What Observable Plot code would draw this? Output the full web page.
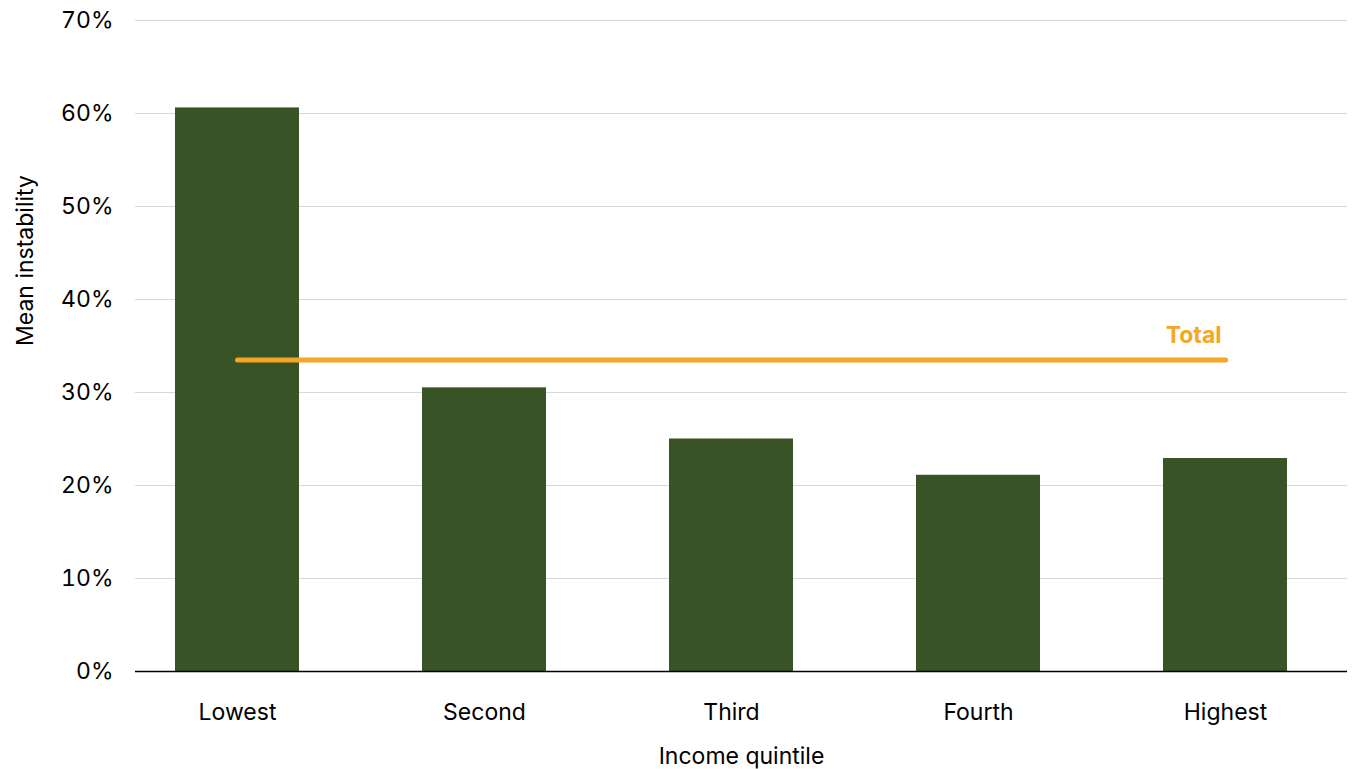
<!DOCTYPE html>
<html><head>
<script src="https://cdn.jsdelivr.net/npm/d3@7"></script>
<script src="https://cdn.jsdelivr.net/npm/@observablehq/plot@0.6"></script>
<style>body{margin:0;background:#fff;font-family:Inter,sans-serif}</style>
</head><body><div id="graph"></div>
<script>
const quintiles = ["Lowest", "Second", "Third", "Fourth", "Highest"];
const instability = [0.606, 0.305, 0.250, 0.211, 0.229];
const total = 0.335;

const bars = quintiles.map((q, i) => ({q, v: instability[i]}));
const totalLine = quintiles.map(q => ({q, v: total}));
const yTicks = d3.range(0, 0.71, 0.1);

const plot = Plot.plot({
  width: 1353, height: 769,
  marginLeft: 135, marginRight: 6, marginTop: 20, marginBottom: 98,
  style: {fontFamily: "Inter, sans-serif", fontSize: "23px", color: "#000"},
  x: {domain: quintiles, paddingInner: 0.5, paddingOuter: 0.2, align: 0.4, label: null},
  y: {domain: [0, 0.7], label: null},
  marks: [
    Plot.ruleY(yTicks.slice(1), {stroke: "#d9d9d9"}),
    Plot.barY(bars, {x: "q", y: "v", fill: "#385325"}),
    Plot.ruleY([0], {stroke: "#000", strokeWidth: 1.5}),
    Plot.line(totalLine, {x: "q", y: "v", stroke: "#F5A623", strokeWidth: 5, strokeLinecap: "round"}),
    Plot.text([{q: "Highest", v: total}], {x: "q", y: "v", text: () => "Total", dy: -24, dx: -4, textAnchor: "end", fill: "#F5A623", fontWeight: "bold", fontSize: 23}),
    Plot.axisX({tickSize: 0, tickPadding: 32, fontSize: 23, label: null}),
    Plot.axisY({tickSize: 0, tickPadding: 22, fontSize: 23, label: null, ticks: yTicks, tickFormat: d => Math.round(d * 100) + "%"}),
    Plot.text(["Income quintile"], {frameAnchor: "bottom", dy: 92, fontSize: 23, text: d => d}),
    Plot.text(["Mean instability"], {frameAnchor: "left", dx: -110, rotate: -90, fontSize: 23, text: d => d})
  ]
});
document.getElementById("graph").append(plot);
</script></body></html>
